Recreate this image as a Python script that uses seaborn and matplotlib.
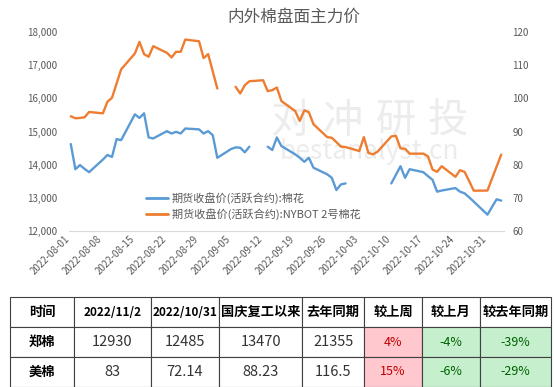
import numpy as np
import pandas as pd
import matplotlib
matplotlib.use("Agg")
import matplotlib.pyplot as plt
from matplotlib.lines import Line2D
from matplotlib.ticker import FuncFormatter
import seaborn as sns

# ---- data ----
dates = pd.bdate_range("2022-08-01", "2022-11-03")

# 郑棉 期货收盘价, NaN = 休市
zce = [14620, 13860, 13985, 13870, 13770,
       14150, 14290, 14230, 14770, 14740,
       15520, 15410, 15550, 14820, 14790,
       15010, 14940, 14990, 14940, 15090,
       15065, 14940, 15010, 14890, 14205,
       14470, 14520, 14510, 14370, 14540,
       np.nan, 14540, 14440, 14820, 14560,
       14310, 14205, 14085, 14205, 13905,
       13705, 13600, 13230, 13400, 13430,
       np.nan, np.nan, np.nan, np.nan, np.nan,
       13430, 13690, 13950, 13600, 13860,
       13770, 13650, 13540, 13180, 13215,
       13290, 13180, 13130, 13010, 12880,
       12485, 12720, 12950, 12910]

# NYBOT 2号棉花
nybot = [94.6, 94.0, 94.1, 94.3, 95.9,
         95.5, 99.0, 100.2, 104.5, 108.8,
         113.6, 117.1, 113.4, 112.6, 115.8,
         113.8, 112.4, 114.1, 114.1, 117.8,
         117.3, 112.2, 113.4, 108.2, 103.0,
         np.nan, 103.5, 101.5, 104.0, 105.2,
         105.5, 102.2, 102.5, 103.3, 99.2,
         96.2, 93.2, 96.4, 95.8, 92.2,
         88.3, 88.1, 86.8, 85.4, 85.3,
         84.1, 88.3, 83.5, 83.1, 83.9,
         88.5, 88.7, 84.9, 84.8, 83.3,
         83.3, 82.5, 78.5, 77.8, 79.5,
         76.3, 78.3, 77.8, 75.0, 72.1,
         72.14, 75.8, 79.4, 83.0]

series_labels = ["期货收盘价(活跃合约):棉花", "期货收盘价(活跃合约):NYBOT 2号棉花"]

table_header = ["时间", "2022/11/2", "2022/10/31", "国庆复工以来", "去年同期", "较上周", "较上月", "较去年同期"]
row_zce = ["郑棉", "12930", "12485", "13470", "21355", "4%", "-4%", "-39%"]
row_ice = ["美棉", "83", "72.14", "88.23", "116.5", "15%", "-6%", "-29%"]

# ---- style ----
sns.set_style("white")
plt.rcParams["font.family"] = ["Noto Sans CJK SC", "DejaVu Sans"]

BLUE = "#5B9BD5"
ORANGE = "#ED7D31"
GREY = "#595959"

W, H = 554, 387

df = pd.DataFrame({"date": dates + pd.Timedelta(hours=12), "zce": zce, "nybot": nybot})


def segments(col):
    d = df[["date", col]].copy()
    d["seg"] = d[col].isna().cumsum()
    return d.dropna()


fig = plt.figure(figsize=(W / 100, H / 100), dpi=100)
ax = fig.add_axes([68.5 / W, 1 - 230.7 / H, 435 / W, (230.7 - 32.3) / H])
ax2 = ax.twinx()

sns.lineplot(data=segments("zce"), x="date", y="zce", units="seg", estimator=None,
             color=BLUE, lw=1.7, ax=ax)
sns.lineplot(data=segments("nybot"), x="date", y="nybot", units="seg", estimator=None,
             color=ORANGE, lw=1.7, ax=ax2)

ax.set_ylim(12000, 18000)
ax.set_yticks(range(12000, 18001, 1000))
ax.yaxis.set_major_formatter(FuncFormatter(lambda v, p: f"{v:,.0f}"))
ax2.set_ylim(60, 120)
ax2.set_yticks(range(60, 121, 10))

ax.set_xlim(pd.Timestamp("2022-08-01"), pd.Timestamp("2022-11-04"))
ticks = pd.date_range("2022-08-01", "2022-10-31", freq="7D")
ax.set_xticks(ticks)
ax.set_xticklabels([t.strftime("%Y-%m-%d") for t in ticks])
for a in (ax, ax2):
    a.set_xlabel("")
    a.set_ylabel("")
    for s in ("left", "right", "top"):
        a.spines[s].set_visible(False)
    a.spines["bottom"].set_color("#d9d9d9")
ax2.spines["bottom"].set_visible(False)

ax.tick_params(axis="y", length=0, labelsize=7, labelcolor=GREY, pad=8)
ax2.tick_params(axis="y", length=0, labelsize=7, labelcolor=GREY, pad=6.5)
ax.tick_params(axis="x", length=3, color="#d9d9d9", labelsize=7, labelcolor=GREY, pad=2)
plt.setp(ax.get_xticklabels(), rotation=45, ha="right", va="center", rotation_mode="anchor")

# watermark
for ch, cx in zip("对冲研投", [290, 343, 396, 448]):
    ax.text(cx / W, 1 - 121 / H, ch, transform=fig.transFigure, ha="center", va="center",
            fontsize=29, color="#ececec", zorder=0)
ax.text(369 / W, 1 - 152 / H, "bestanalyst.cn", transform=fig.transFigure, ha="center",
        va="center", fontsize=19, color="#ececec", zorder=0)

# legend
handles = [Line2D([], [], color=BLUE, lw=2), Line2D([], [], color=ORANGE, lw=2)]
leg = fig.legend(handles, series_labels, loc="upper left", bbox_to_anchor=(146 / W, 1 - 192 / H),
                 frameon=False, fontsize=8, handlelength=2.0, handletextpad=0.3,
                 labelspacing=0.35, borderpad=0, borderaxespad=0)
for t in leg.get_texts():
    t.set_color(GREY)

fig.text(293.5 / W, 1 - 17 / H, "内外棉盘面主力价", ha="center", va="center",
         fontsize=12, color=GREY)

# ---- table ----
axt = fig.add_axes([10 / W, 0.3 / H, 541 / W, 89.4 / H])
axt.axis("off")
col_px = [64, 76.7, 68.6, 82.7, 62.3, 57.4, 58.3, 71]
col_w = [c / sum(col_px) for c in col_px]
tbl = axt.table(cellText=[row_zce, row_ice], colLabels=table_header, cellLoc="center",
                colWidths=col_w, bbox=[0, 0, 1, 1])
tbl.auto_set_font_size(False)
PINK, RED = "#FFC7CE", "#C00000"
GREEN, DGREEN = "#C6EFCE", "#006100"
for (r, c), cell in tbl.get_celld().items():
    cell.set_edgecolor("#404040")
    cell.set_linewidth(0.8)
    txt = cell.get_text()
    txt.set_color("black")
    if r == 0:
        txt.set_fontweight("bold")
        txt.set_fontsize(8.5 if c in (1, 2) else 9.5)
    elif c == 0:
        txt.set_fontweight("bold")
        txt.set_fontsize(9.5)
    elif c == 5:
        cell.set_facecolor(PINK)
        txt.set_color(RED)
        txt.set_fontsize(9)
    elif c in (6, 7):
        cell.set_facecolor(GREEN)
        txt.set_color(DGREEN)
        txt.set_fontsize(9)
    else:
        txt.set_fontsize(10.5)
        txt.set_color("#333333")

fig.savefig("out.png", dpi=100)
